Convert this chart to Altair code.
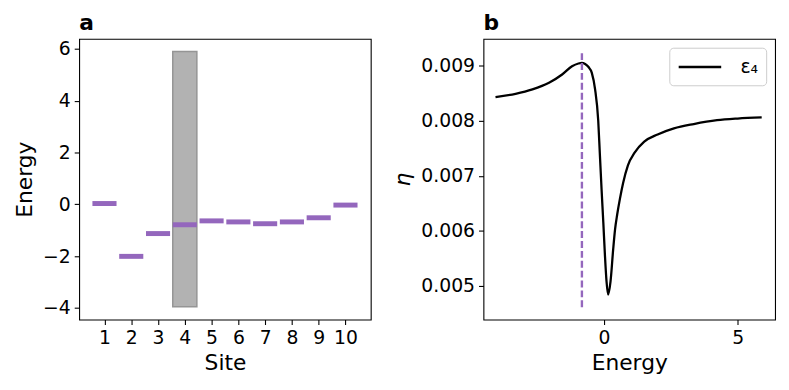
import altair as alt
import pandas as pd

# ---- panel a data ----
sites = [1, 2, 3, 4, 5, 6, 7, 8, 9, 10]
levels = [0.03, -2.01, -1.13, -0.79, -0.64, -0.68, -0.75, -0.68, -0.52, -0.03]
box_site = [4]
box_lo = [-3.96]
box_hi = [5.9]

# ---- panel b data ----
energy = [-4.05, -3.3, -2.67, -2.05, -1.56, -1.19, -0.95, -0.82, -0.7, -0.58,
          -0.45, -0.33, -0.21, -0.15, -0.085, -0.02, 0.04, 0.10, 0.16, 0.25,
          0.35, 0.42, 0.50, 0.60, 0.72, 0.90, 1.15, 1.51, 2.01, 2.62, 3.36, 4.23, 5.0, 5.9]
eta = [0.00843, 0.00849, 0.00857, 0.00869, 0.00884, 0.00899, 0.00904, 0.00905,
       0.00903, 0.00898, 0.00887, 0.00858, 0.00800, 0.00740, 0.00675, 0.00615,
       0.00556, 0.00508, 0.00484, 0.00508, 0.00567, 0.00603, 0.00630, 0.00658,
       0.00687, 0.00719, 0.00742, 0.00762, 0.00775, 0.00786, 0.00794, 0.00801,
       0.00804, 0.00806]
marker_x = [-0.82]
marker_lo = [0.00461]
marker_hi = [0.00924]
series = ["ε₄"]

PURPLE = "#9467bd"
W, H = 295, 284

lev_df = pd.DataFrame({"site": sites, "E": levels})
box_df = pd.DataFrame({"site": box_site, "lo": box_lo, "hi": box_hi})
curve_df = pd.DataFrame({"Energy": energy, "eta": eta, "s": series * len(energy)})
mark_df = pd.DataFrame({"x": marker_x, "lo": marker_lo, "hi": marker_hi})

xa = alt.Scale(domain=[0.055, 10.945], nice=False, zero=False)
ya = alt.Scale(domain=[-4.45, 6.39], nice=False, zero=False)
x_axis_a = alt.Axis(values=sites, format="d", title="Site", labelOverlap=False)
y_axis_a = alt.Axis(values=[-4, -2, 0, 2, 4, 6], format="d", title="Energy",
                    labelOverlap=False)

rect = alt.Chart(box_df).transform_calculate(
    x1="datum.site - 0.45", x2="datum.site + 0.45"
).mark_rect(fill="#b2b2b2", stroke="#959595", strokeWidth=1.5).encode(
    x=alt.X("x1:Q", scale=xa, axis=x_axis_a),
    x2="x2:Q",
    y=alt.Y("lo:Q", scale=ya, axis=y_axis_a),
    y2="hi:Q",
)

bars = alt.Chart(lev_df).transform_calculate(
    x1="datum.site - 0.45", x2="datum.site + 0.45"
).mark_rule(color=PURPLE, strokeWidth=5).encode(
    x=alt.X("x1:Q", scale=xa, axis=x_axis_a), x2="x2:Q",
    y=alt.Y("E:Q", scale=ya, axis=y_axis_a)
)

left = alt.layer(rect, bars).properties(width=W, height=H, title="a")

xb = alt.Scale(domain=[-4.5, 6.4], nice=False, zero=False)
yb = alt.Scale(domain=[0.004386, 0.009489], nice=False, zero=False)
x_axis_b = alt.Axis(values=[0, 5], format="d", title="Energy", labelOverlap=False)
y_axis_b = alt.Axis(values=[0.005, 0.006, 0.007, 0.008, 0.009], format=".3f",
                    title="η", titleFontStyle="italic", labelOverlap=False)

line = alt.Chart(curve_df).mark_line(strokeWidth=2.3, interpolate="monotone").encode(
    x=alt.X("Energy:Q", scale=xb, axis=x_axis_b),
    y=alt.Y("eta:Q", scale=yb, axis=y_axis_b),
    color=alt.Color("s:N", scale=alt.Scale(domain=series, range=["black"]),
                    legend=alt.Legend(title=None, orient="top-right", offset=9,
                                      symbolType="M-1,0H3.3", symbolSize=400,
                                      symbolStrokeWidth=2.3, symbolStrokeColor="black",
                                      symbolFillColor="transparent",
                                      labelFontSize=19,
                                      labelOffset=41, padding=8,
                                      fillColor="white", strokeColor="#cccccc",
                                      cornerRadius=4, labelColor="black")),
)

dash = alt.Chart(mark_df).mark_rule(color=PURPLE, strokeWidth=2.4, strokeDash=[7, 3]).encode(
    x=alt.X("x:Q", scale=xb, axis=x_axis_b),
    y=alt.Y("lo:Q", scale=yb, axis=y_axis_b), y2="hi:Q"
)

right = alt.layer(line, dash).properties(width=W, height=H, title="b")

chart = alt.hconcat(left, right, spacing=20).resolve_scale(
    color="independent"
).resolve_legend(color="independent").properties(
    padding={"left": 5, "right": 5, "top": 1, "bottom": 5}
).configure(
    font="DejaVu Sans"
).configure_view(
    stroke="black", strokeWidth=1.1
).configure_axis(
    domain=False, grid=False, tickColor="black", tickSize=5, tickWidth=1.1,
    labelFontSize=19, labelColor="black", labelPadding=4, labelOverlap=False,
    titleFontSize=22, titleFontWeight="normal", titleColor="black", titlePadding=6,
).configure_title(
    fontSize=22, fontWeight="bold", anchor="start", frame="group", color="black", offset=4
)

chart.save("out.html", embed_options={"renderer": "svg", "actions": False})
